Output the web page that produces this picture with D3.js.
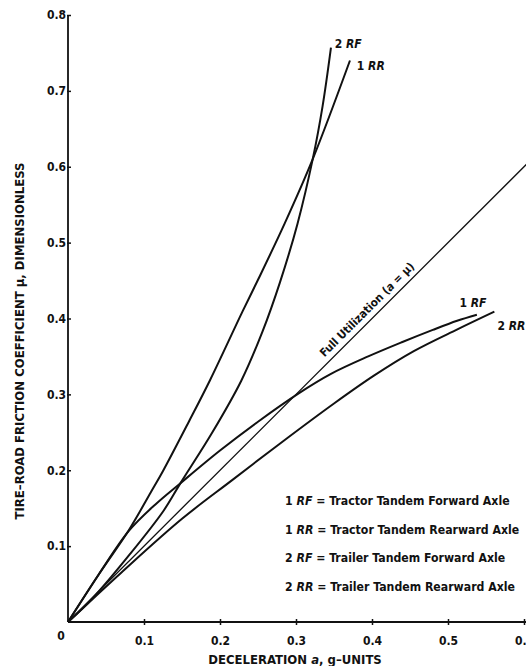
<!DOCTYPE html>
<html>
<head>
<meta charset="utf-8">
<script src="https://cdn.jsdelivr.net/npm/d3@7"></script>
<style>
  body { margin: 0; background: #fff; }
  text {
    font-family: "Liberation Sans Narrow", "DejaVu Sans Condensed", "Arial Narrow", sans-serif;
    font-weight: bold;
    fill: #111;
  }
</style>
</head>
<body>
<svg id="chart" width="526" height="666"></svg>
<script>
// values: [deceleration a, friction coefficient mu]
const tractorFwd = [[0, 0], [0.04, 0.062], [0.08, 0.12], [0.115, 0.155], [0.148, 0.183], [0.2, 0.226],
  [0.25, 0.264], [0.303, 0.301], [0.346, 0.327], [0.395, 0.35], [0.44, 0.369], [0.48, 0.385],
  [0.512, 0.397], [0.538, 0.405]];
const tractorRear = [[0, 0], [0.04, 0.062], [0.08, 0.121], [0.109, 0.171], [0.125, 0.199], [0.159, 0.264],
  [0.187, 0.319], [0.23, 0.41], [0.25, 0.451], [0.285, 0.525], [0.322, 0.61], [0.371, 0.74]];
const trailerFwd = [[0, 0], [0.033, 0.032], [0.082, 0.09], [0.126, 0.147], [0.148, 0.183], [0.19, 0.25],
  [0.228, 0.318], [0.256, 0.383], [0.279, 0.448], [0.302, 0.525], [0.322, 0.61], [0.335, 0.68],
  [0.346, 0.757]];
const trailerRear = [[0, 0], [0.07, 0.065], [0.15, 0.136], [0.216, 0.187], [0.28, 0.236], [0.35, 0.288],
  [0.403, 0.325], [0.455, 0.357], [0.513, 0.386], [0.561, 0.409]];
const fullUtil = [[0, 0], [0.62, 0.62]];

const xTicks = [0.1, 0.2, 0.3, 0.4, 0.5, 0.6];
const yTicks = [0.1, 0.2, 0.3, 0.4, 0.5, 0.6, 0.7, 0.8];

const curveLabels = [
  { num: '2', code: 'RF', at: [0.351, 0.757] },
  { num: '1', code: 'RR', at: [0.38, 0.727] },
  { num: '1', code: 'RF', at: [0.515, 0.415] },
  { num: '2', code: 'RR', at: [0.565, 0.385] }
];
const legendRows = [
  ['1', 'RF', 'Tractor Tandem Forward Axle'],
  ['1', 'RR', 'Tractor Tandem Rearward Axle'],
  ['2', 'RF', 'Trailer Tandem Forward Axle'],
  ['2', 'RR', 'Trailer Tandem Rearward Axle']
];

const svg = d3.select('#chart');

const x = d3.scaleLinear().domain([0, 0.6]).range([68, 524]);
const y = d3.scaleLinear().domain([0, 0.8]).range([622, 15]);

// axes
svg.append('line')
  .attr('x1', x(0)).attr('x2', 526)
  .attr('y1', y(0)).attr('y2', y(0))
  .attr('stroke', '#111').attr('stroke-width', 1.8);
svg.append('line')
  .attr('x1', x(0)).attr('x2', x(0))
  .attr('y1', y(0)).attr('y2', y(0.8))
  .attr('stroke', '#111').attr('stroke-width', 1.8);

svg.append('g')
  .attr('transform', `translate(0,${y(0)})`)
  .call(d3.axisBottom(x).tickValues(xTicks).tickSize(0).tickPadding(14).tickFormat(d3.format('.1f')))
  .call(g => g.attr('font-family', null).attr('font-size', 12))
  .call(g => g.select('.domain').remove())
  .call(g => g.selectAll('.tick').append('line')
    .attr('y1', -3).attr('y2', 3).attr('stroke', '#111').attr('stroke-width', 1.5));

svg.append('g')
  .attr('transform', `translate(${x(0)},0)`)
  .call(d3.axisLeft(y).tickValues(yTicks).tickSize(0).tickPadding(2).tickFormat(d3.format('.1f')))
  .call(g => g.attr('font-family', null).attr('font-size', 12))
  .call(g => g.select('.domain').remove())
  .call(g => g.selectAll('.tick').append('line')
    .attr('x1', -1).attr('x2', 3).attr('stroke', '#111').attr('stroke-width', 1.5));

svg.append('text')
  .attr('x', 61).attr('y', 640)
  .attr('text-anchor', 'middle')
  .attr('font-size', 12)
  .text('0');

// axis titles
let xt = svg.append('text')
  .attr('x', 295).attr('y', 664)
  .attr('text-anchor', 'middle')
  .attr('font-size', 13);
xt.append('tspan').text('DECELERATION ');
xt.append('tspan').attr('font-style', 'italic').text('a');
xt.append('tspan').text(', g\u2013UNITS');

svg.append('text')
  .attr('transform', 'translate(24,341) rotate(-90)')
  .attr('text-anchor', 'middle')
  .attr('font-size', 13)
  .text('TIRE\u2013ROAD FRICTION COEFFICIENT \u03bc, DIMENSIONLESS');

// curves
const straight = d3.line()
  .x(d => x(d[0]))
  .y(d => y(d[1]));
const smooth = d3.line()
  .x(d => x(d[0]))
  .y(d => y(d[1]))
  .curve(d3.curveCatmullRom.alpha(0.5));

svg.append('path')
  .datum(fullUtil)
  .attr('d', straight)
  .attr('fill', 'none')
  .attr('stroke', '#111')
  .attr('stroke-width', 1.3);

[tractorFwd, tractorRear, trailerFwd, trailerRear].forEach(function (series) {
  svg.append('path')
    .datum(series)
    .attr('d', smooth)
    .attr('fill', 'none')
    .attr('stroke', '#111')
    .attr('stroke-width', 2);
});

// label along the full utilization line
let angle = Math.atan2(y(0) - y(1), x(1) - x(0)) * 180 / Math.PI;
let fu = svg.append('text')
  .attr('transform', `translate(${x(0.343)},${y(0.343)}) rotate(${-angle})`)
  .attr('y', -6)
  .attr('font-size', 11.5);
fu.append('tspan').text('Full Utilization (');
fu.append('tspan').attr('font-style', 'italic').text('a');
fu.append('tspan').text(' = \u03bc)');

// curve end labels
curveLabels.forEach(function (d) {
  let t = svg.append('text')
    .attr('x', x(d.at[0])).attr('y', y(d.at[1]))
    .attr('font-size', 12);
  t.append('tspan').text(d.num + ' ');
  t.append('tspan').attr('font-style', 'italic').text(d.code);
});

// legend
legendRows.forEach(function (r, i) {
  let t = svg.append('text')
    .attr('x', 285).attr('y', 505 + i * 28.5)
    .attr('font-size', 12.2);
  t.append('tspan').text(r[0] + ' ');
  t.append('tspan').attr('font-style', 'italic').text(r[1]);
  t.append('tspan').text(' = ' + r[2]);
});
</script>
</body>
</html>
